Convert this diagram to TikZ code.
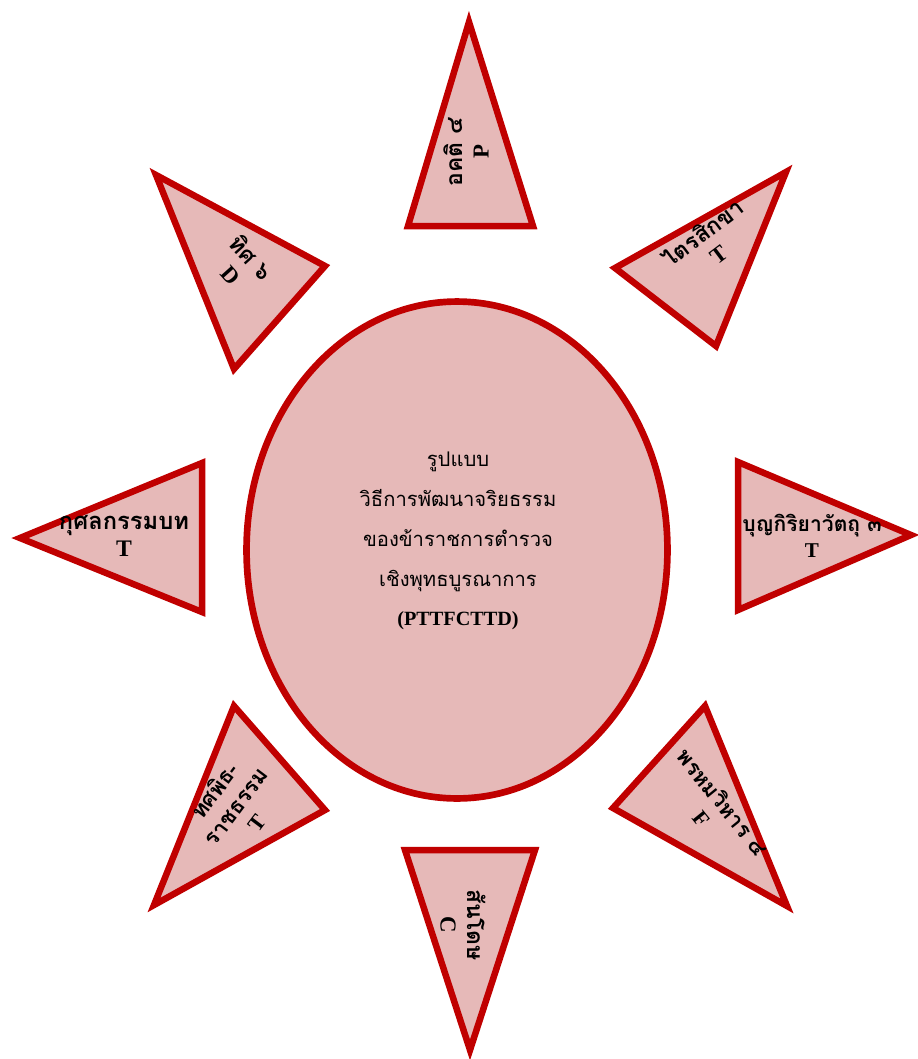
\documentclass[tikz,border=0pt]{standalone}
\usepackage{fontspec}
\setmainfont{Liberation Serif}
\newfontfamily\thaifont[Script=Thai]{Loma}
\usepackage{xcolor}
\definecolor{rim}{RGB}{192,0,0}
\definecolor{petal}{RGB}{230,185,184}
\usetikzlibrary{shapes.geometric, shadows}

\begin{document}
\begin{tikzpicture}[
        x=0.02cm, y=-0.02cm,
        petalbox/.style={draw=rim, fill=petal, line width=3.7pt, line join=miter, drop shadow={shadow xshift=1.2pt, shadow yshift=-1.2pt, opacity=0.25}},
        hub/.style={ellipse, draw=rim, fill=petal, line width=3.8pt, minimum width=8.42cm, minimum height=9.94cm, inner sep=0pt, drop shadow={shadow xshift=1.2pt, shadow yshift=-1.2pt, opacity=0.25}},
        tag/.style={align=center, inner sep=0pt, font=\fontsize{#1}{15}\selectfont\bfseries},
        tag/.default=13,
        title/.style={align=center, inner sep=0pt, font=\fontsize{11.5}{22.7}\selectfont}
    ]
        \useasboundingbox (0,0) rectangle (918,1059);

        % eight petals round the hub
        \filldraw[petalbox] (469,22) -- (533,226) -- (408,226) -- cycle;
        \filldraw[petalbox] (156,175) -- (325,266) -- (234,369) -- cycle;
        \filldraw[petalbox] (786,172) -- (716,346) -- (615,268) -- cycle;
        \filldraw[petalbox] (20,538) -- (202,463) -- (202,612) -- cycle;
        \filldraw[petalbox] (911,535) -- (738,610) -- (738,462) -- cycle;
        \filldraw[petalbox] (154,905) -- (234,706) -- (325,810) -- cycle;
        \filldraw[petalbox] (787,906) -- (613,808) -- (705,706) -- cycle;
        \filldraw[petalbox] (470,1050) -- (405,850) -- (535,850) -- cycle;

        \node[hub] (core) at (457,550) {};
        \node[title] (heading) at (458,541) {{\thaifont รูปแบบ}\\{\thaifont วิธีการพัฒนาจริยธรรม}\\{\thaifont ของข้าราชการตำรวจ}\\{\thaifont เชิงพุทธบูรณาการ}\\\textbf{(PTTFCTTD)}};

        \node[tag, rotate=90] (agati) at (466,152) {{\thaifont อคติ ๔}\\P};
        \node[tag, rotate=-48] (thit) at (242,266) {{\thaifont ทิศ ๖}\\D};
        \node[tag, rotate=37] (trai) at (710,243) {{\thaifont ไตรสิกขา}\\T};
        \node[tag=13.5] (kusala) at (124,536) {{\thaifont กุศลกรรมบท}\\T};
        \node[tag=12] (bunya) at (812,536) {{\thaifont บุญกิริยาวัตถุ ๓}\\T};
        \node[tag=12.5, rotate=53] (thotsa) at (235,806) {{\thaifont ทศพิธ-}\\{\thaifont ราชธรรม}\\T};
        \node[tag=12.5, rotate=-51] (phrom) at (713,810) {{\thaifont พรหมวิหาร ๔}\\F};
        \node[tag, rotate=-90] (santo) at (463,925) {{\thaifont สันโดษ}\\C};
    \end{tikzpicture}
\end{document}
